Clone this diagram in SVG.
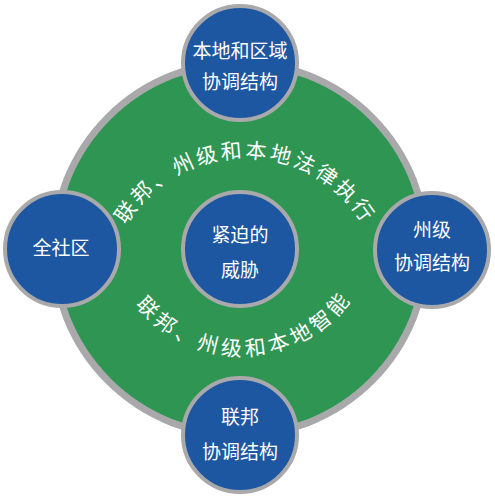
<svg xmlns="http://www.w3.org/2000/svg" width="495" height="499" viewBox="0 0 495 499">
  <style>
    .node { fill: #1d57a1; stroke: #a9a9ab; stroke-width: 4; }
    .lbl { font-family: "Noto Sans CJK SC", "Noto Sans", sans-serif; font-size: 19px; fill: #ffffff; text-anchor: middle; }
    .arc { font-family: "Noto Sans CJK SC", "Noto Sans", sans-serif; font-size: 21px; fill: #ffffff; text-anchor: middle; }
  </style>
  <defs>
    <path id="upperArc" d="M106,297 A139,139 0 0,1 384,297" fill="none"/>
    <path id="lowerArc" d="M106.5,221 A135,135 0 0,0 376.5,221" fill="none"/>
  </defs>
  <rect width="495" height="499" fill="#ffffff"/>

  <g id="ring">
    <circle cx="240" cy="249" r="186.5" fill="#2f9553" stroke="#a9a9ab" stroke-width="7"/>
    <text class="arc" letter-spacing="2.8"><textPath href="#upperArc" startOffset="50%">联邦、州级和本地法律执行</textPath></text>
    <text class="arc" letter-spacing="4.2"><textPath href="#lowerArc" startOffset="51%">联邦、州级和本地智能</textPath></text>
  </g>

  <g id="connectors"></g>

  <g id="node-top">
    <circle class="node" cx="240" cy="63" r="57"/>
    <text class="lbl" x="240" y="58">本地和区域</text>
    <text class="lbl" x="240" y="89">协调结构</text>
  </g>
  <g id="node-left">
    <circle class="node" cx="62" cy="249" r="57"/>
    <text class="lbl" x="61" y="255">全社区</text>
  </g>
  <g id="node-right">
    <circle class="node" cx="432" cy="250" r="57"/>
    <text class="lbl" x="432" y="237">州级</text>
    <text class="lbl" x="432" y="270">协调结构</text>
  </g>
  <g id="node-center">
    <circle class="node" cx="240" cy="249" r="57"/>
    <text class="lbl" x="240" y="242">紧迫的</text>
    <text class="lbl" x="240" y="277">威胁</text>
  </g>
  <g id="node-bottom">
    <circle class="node" cx="240" cy="435" r="57"/>
    <text class="lbl" x="240" y="424">联邦</text>
    <text class="lbl" x="240" y="459">协调结构</text>
  </g>
</svg>
